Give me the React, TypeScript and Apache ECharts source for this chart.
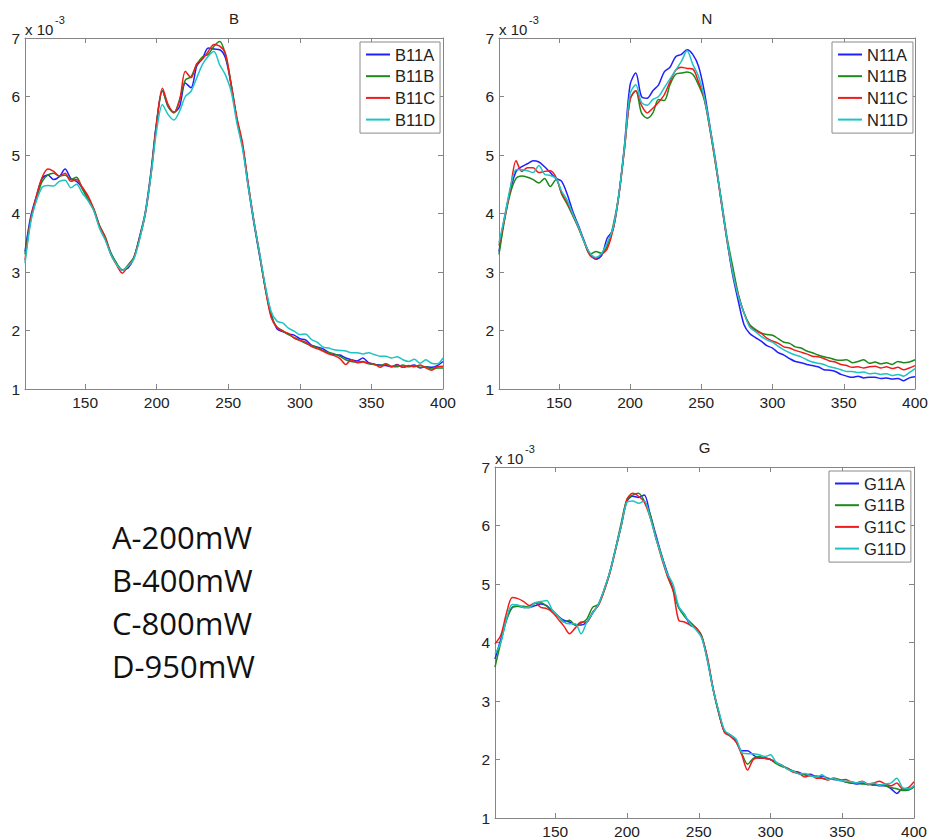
import React, { useEffect, useRef } from "react";
import * as echarts from "echarts";

// wavelength grid (x), 108..400 step 4
const wavelengths: number[] = [];
for (let w = 108; w <= 400; w += 4) wavelengths.push(w);

const xTicks = [150, 200, 250, 300, 350, 400];

// Panel B (values x 10^-3)
const B11A = [
  3.35, 3.95, 4.3, 4.6, 4.66, 4.58, 4.63, 4.76, 4.6, 4.55,
  4.44, 4.24, 4.06, 3.78, 3.57, 3.32, 3.14, 3.04, 3.07, 3.24,
  3.6, 4.02, 4.72, 5.58, 6.1, 5.84, 5.73, 5.83, 6.23, 6.15,
  6.52, 6.65, 6.83, 6.81, 6.8, 6.66, 6.2, 5.6, 5.15, 4.45,
  3.82, 3.26, 2.72, 2.28, 2.03, 1.98, 1.94, 1.92, 1.86, 1.84,
  1.75, 1.72, 1.69, 1.63, 1.59, 1.58, 1.53, 1.5, 1.48, 1.53,
  1.45, 1.42, 1.41, 1.4, 1.38, 1.42, 1.37, 1.39, 1.41, 1.36,
  1.38, 1.37, 1.4, 1.47,
];
const B11B = [
  3.3, 3.9, 4.25, 4.55, 4.66, 4.69, 4.64, 4.66, 4.58, 4.62,
  4.42, 4.25, 4.08, 3.8, 3.6, 3.33, 3.15, 3.03, 3.12, 3.25,
  3.58, 4.0, 4.68, 5.55, 6.1, 5.82, 5.72, 5.95, 6.28, 6.34,
  6.55, 6.68, 6.72, 6.86, 6.94, 6.72, 6.22, 5.62, 5.16, 4.48,
  3.85, 3.28, 2.7, 2.25, 2.06, 2.0, 1.93, 1.88, 1.83, 1.78,
  1.74, 1.71, 1.66, 1.62, 1.6, 1.56, 1.5, 1.47, 1.46, 1.47,
  1.43, 1.42, 1.4, 1.43, 1.39, 1.38, 1.41, 1.38, 1.4, 1.37,
  1.38, 1.34, 1.36, 1.36,
];
const B11C = [
  3.2, 3.9, 4.3, 4.62, 4.76, 4.72, 4.64, 4.69, 4.55, 4.58,
  4.45, 4.3, 4.08, 3.79, 3.6, 3.3, 3.12, 2.98, 3.1, 3.24,
  3.57, 3.98, 4.66, 5.55, 6.14, 5.86, 5.73, 5.93, 6.43, 6.32,
  6.56, 6.64, 6.77, 6.89, 6.86, 6.74, 6.2, 5.64, 5.2, 4.5,
  3.86, 3.3, 2.7, 2.22, 2.05, 1.99, 1.95, 1.87, 1.83, 1.8,
  1.73, 1.69, 1.65, 1.6, 1.57, 1.52, 1.42, 1.5, 1.45, 1.46,
  1.44, 1.43, 1.37, 1.42, 1.38, 1.41, 1.37, 1.4, 1.38, 1.41,
  1.36, 1.32, 1.38, 1.39,
];
const B11D = [
  3.15, 3.85, 4.22, 4.45, 4.48, 4.47, 4.55, 4.57, 4.44, 4.5,
  4.35, 4.22, 4.05, 3.75, 3.55, 3.3, 3.13, 3.03, 3.1, 3.22,
  3.55, 4.0, 4.65, 5.43, 5.86, 5.69, 5.6, 5.75, 6.0, 6.09,
  6.32, 6.55, 6.69, 6.77, 6.54, 6.37, 6.09, 5.55, 5.1, 4.45,
  3.85, 3.3, 2.75, 2.32, 2.16, 2.13, 2.04, 1.99, 1.93, 1.94,
  1.85, 1.8, 1.72, 1.7, 1.67, 1.66, 1.65, 1.62, 1.62, 1.6,
  1.62, 1.59, 1.56, 1.56, 1.53, 1.55, 1.5, 1.47, 1.51, 1.44,
  1.5, 1.44, 1.43, 1.53,
];

// Panel N
const N11A = [
  3.35, 3.95, 4.4, 4.72, 4.8, 4.85, 4.9, 4.88, 4.8, 4.7,
  4.6, 4.55, 4.32, 4.02, 3.78, 3.52, 3.3, 3.22, 3.28, 3.58,
  3.72, 4.3, 5.15, 6.2, 6.4, 6.0, 5.97, 6.1, 6.2, 6.42,
  6.5, 6.68, 6.72, 6.8, 6.72, 6.52, 6.1, 5.5, 4.9, 4.2,
  3.55, 2.95, 2.5, 2.1, 1.95, 1.88, 1.82, 1.74, 1.7, 1.62,
  1.58, 1.52, 1.47, 1.45, 1.42, 1.4, 1.38, 1.33, 1.32, 1.3,
  1.25, 1.22, 1.2, 1.22, 1.19, 1.2, 1.2, 1.18, 1.19, 1.17,
  1.18, 1.14, 1.19, 1.21,
];
const N11B = [
  3.3, 3.9, 4.35, 4.6, 4.64, 4.62, 4.58, 4.52, 4.6, 4.46,
  4.58, 4.33, 4.15, 3.95, 3.74, 3.5, 3.3, 3.35, 3.32, 3.45,
  3.78, 4.3, 5.1, 5.95, 6.1, 5.72, 5.63, 5.72, 5.95, 5.93,
  6.2, 6.38, 6.4, 6.42, 6.38, 6.2, 5.95, 5.45, 4.85, 4.25,
  3.6, 3.1, 2.62, 2.3, 2.1, 2.02, 1.96, 1.93, 1.92, 1.86,
  1.8, 1.78, 1.72, 1.7, 1.65, 1.62, 1.58, 1.55, 1.53, 1.5,
  1.49, 1.5, 1.45, 1.47, 1.5, 1.44, 1.46, 1.43, 1.45, 1.42,
  1.47, 1.45, 1.46, 1.5,
];
const N11C = [
  3.45, 3.92, 4.42, 4.9, 4.72, 4.78, 4.78, 4.7, 4.72, 4.73,
  4.62, 4.35, 4.18, 3.97, 3.75, 3.5, 3.28, 3.24, 3.3, 3.4,
  3.72, 4.28, 5.08, 5.95, 6.1, 5.85, 5.72, 5.8, 5.9, 6.03,
  6.25, 6.45, 6.5, 6.48, 6.47, 6.25, 5.98, 5.45, 4.85, 4.2,
  3.55, 3.0, 2.6, 2.3, 2.08, 2.0, 1.95, 1.87, 1.82, 1.78,
  1.72, 1.7, 1.66, 1.63, 1.6, 1.56, 1.55, 1.52, 1.48, 1.46,
  1.42, 1.4, 1.37, 1.38, 1.36, 1.38, 1.39, 1.36, 1.38, 1.35,
  1.37, 1.33, 1.36, 1.4,
];
const N11D = [
  3.5, 3.95, 4.45, 4.75, 4.75, 4.73, 4.7, 4.82, 4.67, 4.65,
  4.6, 4.38, 4.22, 3.98, 3.76, 3.5, 3.32, 3.25, 3.32, 3.5,
  3.75, 4.3, 5.12, 6.05, 6.2, 5.9, 5.85, 5.95, 6.0, 6.15,
  6.3, 6.45, 6.6, 6.78, 6.55, 6.35, 6.0, 5.48, 4.88, 4.22,
  3.57, 3.0, 2.58, 2.3, 2.06, 1.98, 1.9, 1.84, 1.8, 1.73,
  1.67, 1.62, 1.58, 1.55, 1.5, 1.46, 1.44, 1.42, 1.38, 1.36,
  1.33, 1.3, 1.3, 1.28, 1.29, 1.26, 1.27, 1.25, 1.26, 1.23,
  1.25, 1.22, 1.28, 1.35,
];

// Panel G
const G11A = [
  3.72, 4.05, 4.4, 4.6, 4.62, 4.6, 4.6, 4.63, 4.66, 4.63,
  4.52, 4.45, 4.38, 4.35, 4.3, 4.3, 4.35, 4.5, 4.65, 4.9,
  5.2, 5.6, 6.0, 6.42, 6.5, 6.48, 6.52, 6.2, 5.85, 5.5,
  5.2, 4.92, 4.6, 4.48, 4.3, 4.25, 4.1, 3.7, 3.2, 2.8,
  2.47, 2.42, 2.32, 2.15, 2.15, 2.08, 2.02, 2.03, 2.0, 1.94,
  1.9, 1.84, 1.8, 1.78, 1.74, 1.75, 1.7, 1.72, 1.68, 1.66,
  1.65, 1.62, 1.6, 1.58, 1.6, 1.57, 1.58, 1.55, 1.55, 1.5,
  1.42, 1.5, 1.48, 1.55,
];
const G11B = [
  3.58, 4.0, 4.38, 4.6, 4.62, 4.62, 4.6, 4.67, 4.68, 4.62,
  4.55, 4.45, 4.35, 4.38, 4.3, 4.33, 4.4, 4.6, 4.65, 4.88,
  5.2, 5.6, 6.05, 6.45, 6.52, 6.55, 6.42, 6.2, 5.8, 5.5,
  5.15, 4.9, 4.6, 4.45, 4.35, 4.25, 4.12, 3.72, 3.2, 2.78,
  2.48, 2.4, 2.3, 2.1, 1.92, 2.02, 2.05, 2.02, 2.0, 1.93,
  1.88, 1.85, 1.8, 1.76, 1.74, 1.72, 1.72, 1.68, 1.66, 1.68,
  1.66, 1.62, 1.6, 1.6, 1.58, 1.58, 1.56, 1.57, 1.55, 1.52,
  1.5, 1.47, 1.48, 1.53,
];
const G11C = [
  3.98, 4.12, 4.5, 4.77, 4.75, 4.7, 4.63, 4.68, 4.6, 4.58,
  4.52, 4.4, 4.28, 4.15, 4.25, 4.35, 4.35, 4.52, 4.63, 4.88,
  5.18, 5.58, 6.0, 6.45, 6.55, 6.5, 6.4, 6.15, 5.8, 5.45,
  5.15, 4.9, 4.38, 4.35, 4.3, 4.25, 4.1, 3.75, 3.22, 2.8,
  2.46, 2.4, 2.3, 2.08, 1.82, 2.0, 2.03, 2.02, 2.0, 1.95,
  1.9, 1.84, 1.78, 1.76, 1.7, 1.73, 1.68, 1.68, 1.65, 1.68,
  1.64, 1.66, 1.62, 1.6, 1.63, 1.58, 1.6, 1.63, 1.58, 1.55,
  1.6, 1.5, 1.52, 1.62,
];
const G11D = [
  3.8, 4.0, 4.4, 4.65, 4.64, 4.6, 4.6, 4.68, 4.7, 4.72,
  4.55, 4.45, 4.35, 4.32, 4.32, 4.15, 4.35, 4.5, 4.65, 4.9,
  5.2, 5.6, 6.0, 6.4, 6.42, 6.38, 6.42, 6.15, 5.8, 5.48,
  5.18, 5.0, 4.62, 4.48, 4.32, 4.22, 4.08, 3.7, 3.2, 2.82,
  2.5, 2.42, 2.35, 2.12, 2.1, 2.1, 2.08, 2.05, 2.08, 1.95,
  1.9, 1.83, 1.8, 1.75, 1.76, 1.72, 1.7, 1.74, 1.66, 1.67,
  1.64, 1.63, 1.62, 1.6, 1.62, 1.58, 1.6, 1.56, 1.58, 1.6,
  1.68, 1.52, 1.5, 1.55,
];

const powerLabels = ["A-200mW", "B-400mW", "C-800mW", "D-950mW"];

const COLORS = ["#1f1fff", "#1a8a1a", "#f01c1c", "#1cc4c4"];

type Panel = {
  title: string;
  names: string[];
  values: number[][];
  grid: { left: number; top: number; width: number; height: number };
  legend: { left: number; top: number };
};

const panels: Panel[] = [
  {
    title: "B",
    names: ["B11A", "B11B", "B11C", "B11D"],
    values: [B11A, B11B, B11C, B11D],
    grid: { left: 25, top: 38, width: 418, height: 351 },
    legend: { left: 360, top: 42 },
  },
  {
    title: "N",
    names: ["N11A", "N11B", "N11C", "N11D"],
    values: [N11A, N11B, N11C, N11D],
    grid: { left: 499, top: 38, width: 416, height: 351 },
    legend: { left: 832, top: 42 },
  },
  {
    title: "G",
    names: ["G11A", "G11B", "G11C", "G11D"],
    values: [G11A, G11B, G11C, G11D],
    grid: { left: 495, top: 467, width: 419, height: 351 },
    legend: { left: 829, top: 471 },
  },
];

const AXIS_COLOR = "#858585";
const LABEL_COLOR = "#222";
const FONT = "Liberation Sans, Arial, sans-serif";

export default function App() {
  const ref = useRef<HTMLDivElement>(null);
  useEffect(() => {
    if (!ref.current) return;
    const chart = echarts.init(ref.current, null, { renderer: "svg" });

    const grids: any[] = [];
    const xAxes: any[] = [];
    const yAxes: any[] = [];
    const series: any[] = [];
    const legends: any[] = [];
    const graphics: any[] = [];

    panels.forEach((p, pi) => {
      grids.push({ ...p.grid, containLabel: false });
      const baseX = {
        type: "value",
        gridIndex: pi,
        min: 108,
        max: 400,
        splitLine: { show: false },
        axisLine: { onZero: false, lineStyle: { color: AXIS_COLOR, width: 1 } },
        axisTick: {
          inside: true,
          length: 5,
          customValues: xTicks,
          lineStyle: { color: AXIS_COLOR },
        },
      };
      xAxes.push({
        ...baseX,
        position: "bottom",
        axisLabel: {
          customValues: xTicks,
          margin: 5,
          color: LABEL_COLOR,
          fontSize: 15.5,
          fontFamily: FONT,
        },
      });
      xAxes.push({ ...baseX, position: "top", axisLabel: { show: false } });
      const baseY = {
        type: "value",
        gridIndex: pi,
        min: 1,
        max: 7,
        interval: 1,
        splitLine: { show: false },
        axisLine: { show: true, onZero: false, lineStyle: { color: AXIS_COLOR, width: 1 } },
        axisTick: { show: true, inside: true, length: 5, lineStyle: { color: AXIS_COLOR } },
      };
      yAxes.push({
        ...baseY,
        position: "left",
        axisLabel: { margin: 5, color: LABEL_COLOR, fontSize: 15.5, fontFamily: FONT },
      });
      yAxes.push({ ...baseY, position: "right", axisLabel: { show: false } });

      p.names.forEach((name, si) => {
        series.push({
          type: "line",
          name,
          xAxisIndex: pi * 2,
          yAxisIndex: pi * 2,
          data: wavelengths.map((w, i) => [w, p.values[si][i]]),
          showSymbol: false,
          symbol: "none",
          smooth: 0.3,
          lineStyle: { color: COLORS[si], width: 1.5 },
          itemStyle: { color: COLORS[si] },
          z: 2 + si,
        });
      });

      legends.push({
        data: p.names.map((n) => ({ name: n, icon: "rect" })),
        orient: "vertical",
        left: p.legend.left,
        top: p.legend.top,
        padding: [4, 5, 5, 6],
        itemGap: 4.7,
        itemWidth: 24,
        itemHeight: 2,
        backgroundColor: "#fff",
        borderColor: "#8a8a8a",
        borderWidth: 1,
        borderRadius: 0,
        selectedMode: false,
        textStyle: { fontSize: 16.5, fontFamily: FONT, color: LABEL_COLOR, lineHeight: 17 },
      });

      const g = p.grid;
      graphics.push({
        type: "text",
        x: g.left + g.width / 2,
        y: g.top - 20,
        style: {
          text: p.title,
          fill: LABEL_COLOR,
          font: `15px ${FONT}`,
          textAlign: "center",
          textVerticalAlign: "middle",
        },
      });
      graphics.push({
        type: "text",
        x: g.left,
        y: g.top - 9,
        style: {
          text: "x 10",
          fill: LABEL_COLOR,
          font: `15px ${FONT}`,
          textAlign: "left",
          textVerticalAlign: "middle",
        },
      });
      graphics.push({
        type: "text",
        x: g.left + 30,
        y: g.top - 18,
        style: {
          text: "-3",
          fill: LABEL_COLOR,
          font: `11px ${FONT}`,
          textAlign: "left",
          textVerticalAlign: "middle",
        },
      });
    });

    powerLabels.forEach((t, i) => {
      graphics.push({
        type: "text",
        x: 112,
        y: 537 + i * 43,
        style: {
          text: t,
          fill: "#111",
          font: `31px "Open Sans", sans-serif`,
          textAlign: "left",
          textVerticalAlign: "middle",
        },
      });
    });

    chart.setOption({
      animation: false,
      backgroundColor: "#fff",
      grid: grids,
      xAxis: xAxes,
      yAxis: yAxes,
      legend: legends,
      series,
      graphic: graphics,
    });
    return () => chart.dispose();
  }, []);
  return (
    <div
      ref={ref}
      style={{ position: "fixed", left: 0, top: 0, width: 932, height: 840 }}
    />
  );
}
